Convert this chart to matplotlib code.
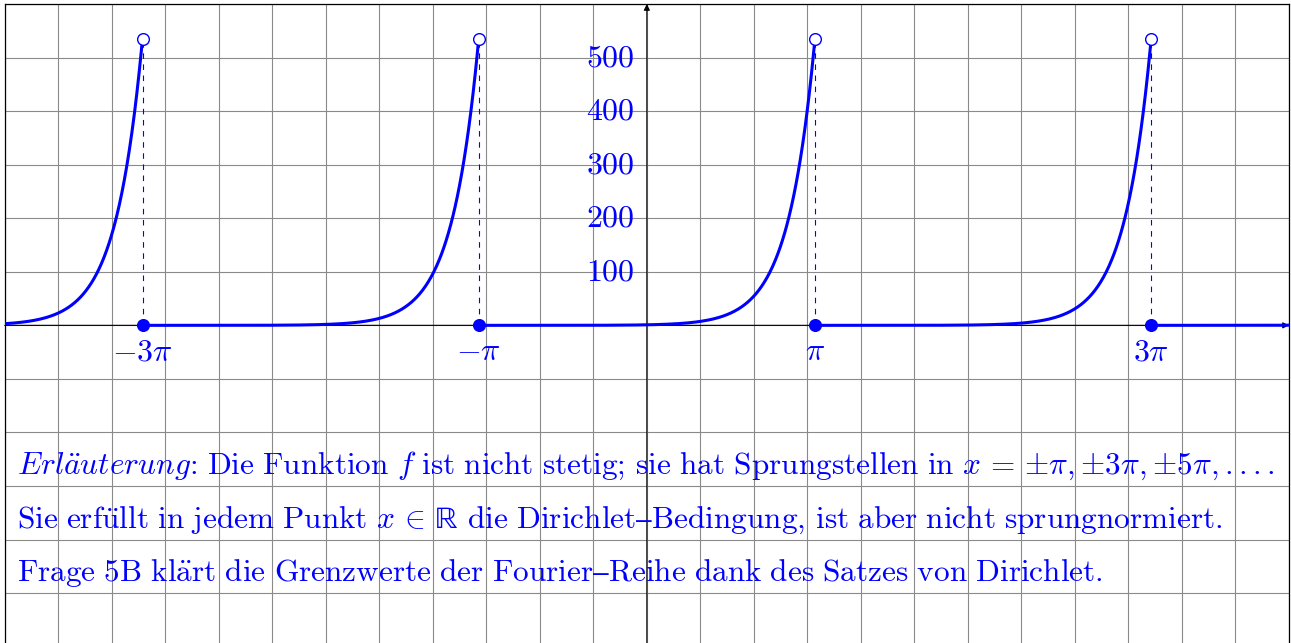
import numpy as np
import matplotlib
matplotlib.use("Agg")
import matplotlib.pyplot as plt

# ---------------- data ----------------
growth_rate = 2.0                     # f(x) = exp(growth_rate * x) on [-pi, pi), 2*pi-periodic
period = 2 * np.pi
period_shifts = [-2, -1, 0, 1, 2]
jump_x = [-3 * np.pi, -np.pi, np.pi, 3 * np.pi]
jump_labels = [r"$-3\pi$", r"$-\pi$", r"$\pi$", r"$3\pi$"]
jump_top = float(np.exp(growth_rate * np.pi))   # left limit at each jump (~535)
y_tick_values = [100, 200, 300, 400, 500]
y_tick_labels = ["100", "200", "300", "400", "500"]
note_lines = [
    [("it", "Erläuterung"), ("m", r"\text{:}"), ("rm", " Die Funktion "), ("m", "f"),
     ("rm", " ist nicht stetig; sie hat Sprungstellen in "),
     ("m", r"x\,=\,{\pm\pi},{\pm3\pi},{\pm5\pi},....")],
    [("rm", "Sie erfüllt in jedem Punkt "), ("m", r"x\,\in\,\mathrm{ℝ}"),
     ("rm", " die Dirichlet–Bedingung, ist aber nicht sprungnormiert.")],
    [("rm", "Frage 5B klärt die Grenzwerte der Fourier–Reihe dank des Satzes von Dirichlet.")],
]
note_baselines = [-278, -378, -478]

# ---------------- style ----------------
plt.rcParams["mathtext.fontset"] = "cm"
BLUE = "#0000ff"
X_MIN, X_MAX, Y_MIN, Y_MAX = -12, 12, -600, 600


def to_mathtext(segments):
    out = []
    for kind, s in segments:
        if kind == "m":
            out.append(s)
            continue
        # mathtext already puts a small space after punctuation
        s = s.replace("; ", r";\,").replace(", ", r",\,")
        s = (s.replace("ä", r"\ddot{a}").replace("ü", r"\ddot{u}")
              .replace("ö", r"\ddot{o}").replace(" ", r"\ "))
        out.append((r"\mathit{" if kind == "it" else r"\mathrm{") + s + "}")
    return "$" + "".join(out) + "$"


fig = plt.figure(figsize=(12.91, 6.43), dpi=100)
ax = fig.add_axes([4.7 / 1291, 1 - 646.7 / 643, (1289 - 4.7) / 1291, 642.7 / 643])
ax.set_xlim(X_MIN, X_MAX)
ax.set_ylim(Y_MIN, Y_MAX)

ax.set_xticks(np.arange(X_MIN, X_MAX + 1, 1))
ax.set_yticks(np.arange(Y_MIN, Y_MAX + 1, 100))
ax.tick_params(length=0, labelbottom=False, labelleft=False)
ax.grid(True, color="#8a8a8a", lw=0.8)
ax.set_axisbelow(True)
for sp in ax.spines.values():
    sp.set_color("black")
    sp.set_linewidth(0.9)

# axes with arrows
ax.annotate("", xy=(X_MAX, 0), xytext=(X_MIN, 0),
            arrowprops=dict(arrowstyle="-|>", color="black", lw=0.8,
                            mutation_scale=9, shrinkA=0, shrinkB=0), zorder=2)
ax.annotate("", xy=(0, Y_MAX), xytext=(0, Y_MIN),
            arrowprops=dict(arrowstyle="-|>", color="black", lw=0.8,
                            mutation_scale=9, shrinkA=0, shrinkB=0), zorder=2)

# curve pieces
for k in period_shifts:
    a = max((2 * k - 1) * np.pi, X_MIN)
    b = min((2 * k + 1) * np.pi, X_MAX)
    if a >= b:
        continue
    xs = np.linspace(a, b, 600)
    ys = np.exp(growth_rate * (xs - k * period))
    ax.plot(xs, ys, color=BLUE, lw=2.2, zorder=4, solid_capstyle="butt")

# jumps
for xj, lab in zip(jump_x, jump_labels):
    ax.plot([xj, xj], [0, jump_top], color=BLUE, lw=0.8, ls=(0, (5, 5)), zorder=3)
    ax.plot([xj], [0], "o", color=BLUE, ms=8.4, zorder=6)
    ax.plot([xj], [jump_top], "o", mfc="white", mec=BLUE, mew=1.0, ms=8.4, zorder=6)
    ax.text(xj, -20, lab, color=BLUE, fontsize=23, ha="center", va="top", zorder=7)

for v, lab in zip(y_tick_values, y_tick_labels):
    ax.text(-0.23, v, "$" + lab + "$", color=BLUE, fontsize=23,
            ha="right", va="center", zorder=7)

for segs, yb in zip(note_lines, note_baselines):
    ax.text(-11.77, yb, to_mathtext(segs), color=BLUE, fontsize=22.5,
            ha="left", va="baseline", zorder=7)

fig.savefig("out.png", dpi=100)
